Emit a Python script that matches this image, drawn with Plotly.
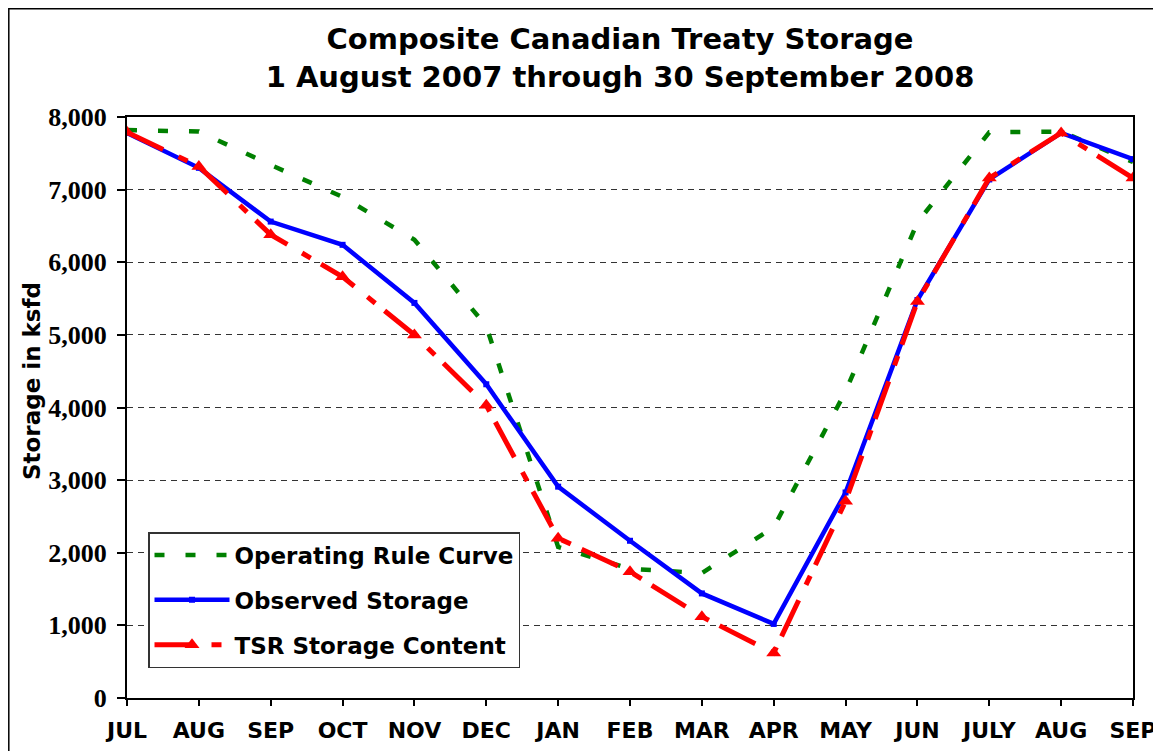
import plotly.graph_objects as go

# ---- data ----
months = ["JUL", "AUG", "SEP", "OCT", "NOV", "DEC", "JAN", "FEB", "MAR",
          "APR", "MAY", "JUN", "JULY", "AUG", "SEP"]
rule_curve = [7820, 7800, 7340, 6900, 6310, 5120, 2080, 1780, 1720,
              2350, 4220, 6550, 7790, 7800, 7380]
observed = [7780, 7300, 6560, 6240, 5440, 4320, 2910, 2165, 1440,
            1020, 2830, 5480, 7140, 7780, 7420]
tsr_content = [7790, 7320, 6380, 5800, 5000, 4030, 2200, 1740, 1120,
               620, 2710, 5460, 7160, 7780, 7160]
y_ticks = [0, 1000, 2000, 3000, 4000, 5000, 6000, 7000, 8000]
x_pos = list(range(len(months)))

SANS = "DejaVu Sans"
SERIF = "Liberation Serif"

# the page body adds an 8px offset; the figure fills the rest of the window
W, H = 1153, 743
L, T = 119, 109          # plot area left / top inside the figure
PW, PH = 1006, 581       # plot area width / height


def px_x(page_x):
    """page pixel x -> paper x (relative to plot area)"""
    return (page_x - 8 - L) / PW


def px_y(page_y):
    """page pixel y -> paper y (relative to plot area)"""
    return (T + PH - (page_y - 8)) / PH


fig = go.Figure()
fig.add_trace(go.Scatter(
    x=x_pos, y=rule_curve, mode="lines", name="Operating Rule Curve",
    legendgroup="g1",
    line=dict(color="#008000", width=4.5, dash="10px,21px"),
))
fig.add_trace(go.Scatter(
    x=x_pos, y=observed, mode="lines+markers", name="Observed Storage",
    legendgroup="g2",
    line=dict(color="#0000FF", width=4.5),
    marker=dict(symbol="square", size=6, color="#0000FF"),
))
fig.add_trace(go.Scatter(
    x=x_pos, y=tsr_content, mode="lines+markers", name="TSR Storage Content",
    legendgroup="g3",
    line=dict(color="#FF0000", width=5, dash="40px,17px,10px,12px"),
    marker=dict(symbol="triangle-up", size=13, color="#FF0000"),
))

fig.update_layout(
    width=W, height=H,
    margin=dict(l=L, r=W - L - PW, t=T, b=H - T - PH, autoexpand=False),
    paper_bgcolor="white", plot_bgcolor="white",
    title=dict(
        text="Composite Canadian Treaty Storage<br>1 August 2007 through 30 September 2008",
        x=(620 - 8) / W, xanchor="center", xref="container",
        y=1 - 41 / H, yanchor="top", yref="container",
        font=dict(family=SANS, size=29, color="black", weight="bold"),
    ),
    showlegend=True,
    legend=dict(
        x=px_x(148), y=px_y(532),
        xanchor="left", yanchor="top",
        bgcolor="white", bordercolor="#333333", borderwidth=1.5,
        font=dict(family=SANS, size=23, color="black", weight="bold"),
        itemwidth=75, tracegroupgap=12,
        entrywidth=292, entrywidthmode="pixels",
    ),
    xaxis=dict(
        range=[0, 14], tickmode="array", tickvals=x_pos, ticktext=months,
        ticks="outside", ticklen=6, tickwidth=1.5, tickcolor="black",
        showline=True, linecolor="black", linewidth=2, mirror=True,
        showgrid=False, zeroline=False, automargin=False,
        tickfont=dict(family=SANS, size=22, color="black", weight="bold"),
        ticklabelstandoff=6,
    ),
    yaxis=dict(
        range=[0, 8000], tickmode="array", tickvals=y_ticks, tickformat=",",
        ticks="outside", ticklen=8, tickwidth=1.5, tickcolor="black",
        showline=True, linecolor="black", linewidth=2, mirror=True,
        showgrid=True, gridcolor="#333333", gridwidth=1, griddash="6px,5px",
        zeroline=False, automargin=False,
        tickfont=dict(family=SERIF, size=26, color="black", weight="bold"),
        ticklabelstandoff=5,
    ),
    annotations=[dict(
        text="Storage in ksfd", textangle=-90,
        x=px_x(32), y=px_y(381), xref="paper", yref="paper",
        xanchor="center", yanchor="middle", showarrow=False,
        font=dict(family=SANS, size=23, color="black", weight="bold"),
    )],
    shapes=[dict(
        type="rect", xref="paper", yref="paper",
        x0=(0.8 - L) / PW, x1=1.2, y0=-0.3, y1=(T + PH - 0.8) / PH,
        line=dict(color="black", width=1.5), fillcolor="rgba(0,0,0,0)",
        layer="below",
    )],
)

fig.write_html("out.html")
